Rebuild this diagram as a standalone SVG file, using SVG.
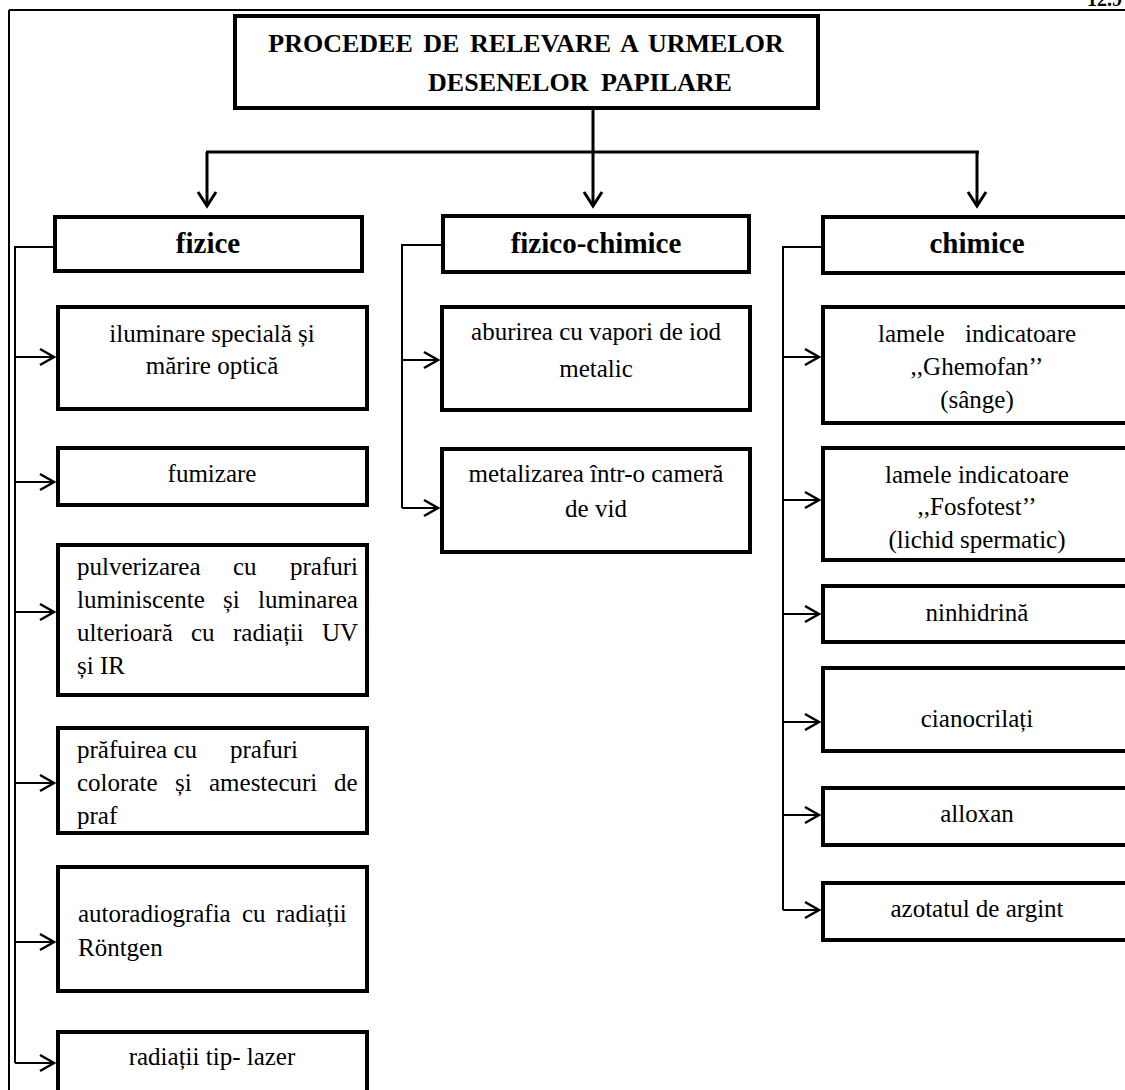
<svg xmlns="http://www.w3.org/2000/svg" width="1125" height="1090" viewBox="0 0 1125 1090">
<defs>
<style>
.box{fill:#fff;stroke:#000;stroke-width:4}
.t{font-family:"Liberation Serif","Times New Roman",serif;font-size:25px;fill:#000}
.c{text-anchor:middle}
.h{font-family:"Liberation Serif","Times New Roman",serif;font-size:29px;font-weight:bold;text-anchor:middle;fill:#000}
.ti{font-family:"Liberation Serif","Times New Roman",serif;font-size:26px;font-weight:bold;text-anchor:middle;fill:#000}
.ln{fill:none;stroke:#000;stroke-width:2}
.dn{fill:none;stroke:#000;stroke-width:3}
</style>
<marker id="ar" markerUnits="userSpaceOnUse" markerWidth="20" markerHeight="20" refX="0" refY="0" viewBox="-16 -10 20 20" orient="auto">
<path d="M-14,-8 L0,0 L-14,8" fill="none" stroke="#000" stroke-width="2.5"/>
</marker>
<marker id="ad" markerUnits="userSpaceOnUse" markerWidth="24" markerHeight="24" refX="0" refY="0" viewBox="-16 -12 20 24" orient="auto">
<path d="M-14,-9 L0,0 L-14,9" fill="none" stroke="#000" stroke-width="3"/>
</marker>
</defs>
<rect width="1125" height="1090" fill="#fff"/>
<g id="page">
<line x1="9" y1="10" x2="1125" y2="10" class="ln"/>
<line x1="9" y1="10" x2="9" y2="1090" class="ln"/>
<text x="1122" y="6" font-family="Liberation Serif, serif" font-size="20" font-weight="bold" text-anchor="end">12.9</text>
</g>
<g id="connectors">
<line x1="593" y1="108" x2="593" y2="152" class="dn"/>
<line x1="206" y1="152" x2="979" y2="152" class="dn"/>
<line x1="207" y1="152" x2="207" y2="206" class="dn" marker-end="url(#ad)"/>
<line x1="593" y1="152" x2="593" y2="206" class="dn" marker-end="url(#ad)"/>
<line x1="977" y1="152" x2="977" y2="206" class="dn" marker-end="url(#ad)"/>
<polyline points="55,247 15,247 15,1063" class="ln"/>
<line x1="15" y1="357" x2="54" y2="357" class="ln" marker-end="url(#ar)"/>
<line x1="15" y1="482" x2="54" y2="482" class="ln" marker-end="url(#ar)"/>
<line x1="15" y1="612" x2="54" y2="612" class="ln" marker-end="url(#ar)"/>
<line x1="15" y1="783" x2="54" y2="783" class="ln" marker-end="url(#ar)"/>
<line x1="15" y1="942" x2="54" y2="942" class="ln" marker-end="url(#ar)"/>
<line x1="15" y1="1063" x2="54" y2="1063" class="ln" marker-end="url(#ar)"/>
<polyline points="443,245 402,245 402,508" class="ln"/>
<line x1="402" y1="360" x2="438" y2="360" class="ln" marker-end="url(#ar)"/>
<line x1="402" y1="508" x2="438" y2="508" class="ln" marker-end="url(#ar)"/>
<polyline points="823,247 783,247 783,910" class="ln"/>
<line x1="783" y1="357" x2="819" y2="357" class="ln" marker-end="url(#ar)"/>
<line x1="783" y1="500" x2="819" y2="500" class="ln" marker-end="url(#ar)"/>
<line x1="783" y1="614" x2="819" y2="614" class="ln" marker-end="url(#ar)"/>
<line x1="783" y1="722" x2="819" y2="722" class="ln" marker-end="url(#ar)"/>
<line x1="783" y1="815" x2="819" y2="815" class="ln" marker-end="url(#ar)"/>
<line x1="783" y1="910" x2="819" y2="910" class="ln" marker-end="url(#ar)"/>
</g>
<g id="title">
<rect x="235" y="16" width="583" height="92" class="box"/>
<text class="ti" x="526" y="52" word-spacing="4">PROCEDEE DE RELEVARE A URMELOR</text>
<text class="ti" x="580" y="91" word-spacing="6">DESENELOR PAPILARE</text>
</g>
<g id="fizice">
<rect x="55" y="217" width="307" height="54" class="box"/>
<text class="h" x="208" y="253">fizice</text>
</g>
<g id="fizico-chimice">
<rect x="443" y="216" width="306" height="56" class="box"/>
<text class="h" x="596" y="253">fizico-chimice</text>
</g>
<g id="chimice">
<rect x="823" y="217" width="308" height="56" class="box"/>
<text class="h" x="977" y="253">chimice</text>
</g>
<g id="iluminare">
<rect x="58" y="307" width="309" height="102" class="box"/>
<text class="t c" x="212" y="342">iluminare specială și</text>
<text class="t c" x="212" y="374">mărire optică</text>
</g>
<g id="fumizare">
<rect x="58" y="448" width="309" height="57" class="box"/>
<text class="t c" x="212" y="482">fumizare</text>
</g>
<g id="pulverizarea">
<rect x="58" y="545" width="309" height="150" class="box"/>
<text class="t" y="575"><tspan x="77">pulverizarea</tspan><tspan x="233">cu</tspan><tspan x="290">prafuri</tspan></text>
<text class="t" y="608"><tspan x="77">luminiscente</tspan><tspan x="223">și</tspan><tspan x="258">luminarea</tspan></text>
<text class="t" y="641"><tspan x="77">ulterioară</tspan><tspan x="191">cu</tspan><tspan x="233">radiații</tspan><tspan x="322">UV</tspan></text>
<text class="t" y="674" x="77">și IR</text>
</g>
<g id="prafuirea">
<rect x="58" y="728" width="309" height="105" class="box"/>
<text class="t" y="758"><tspan x="77">prăfuirea cu</tspan><tspan x="230">prafuri</tspan></text>
<text class="t" y="791"><tspan x="77">colorate</tspan><tspan x="175">și</tspan><tspan x="209">amestecuri</tspan><tspan x="334">de</tspan></text>
<text class="t" y="824" x="77">praf</text>
</g>
<g id="autoradiografia">
<rect x="58" y="867" width="309" height="124" class="box"/>
<text class="t" y="922"><tspan x="78">autoradiografia</tspan><tspan x="242">cu</tspan><tspan x="276">radiații</tspan></text>
<text class="t" y="956" x="78">Röntgen</text>
</g>
<g id="radiatii-lazer">
<rect x="58" y="1032" width="309" height="64" class="box"/>
<text class="t c" x="212" y="1065">radiații tip- lazer</text>
</g>
<g id="aburirea">
<rect x="442" y="307" width="308" height="103" class="box"/>
<text class="t c" x="596" y="340">aburirea cu vapori de iod</text>
<text class="t c" x="596" y="377">metalic</text>
</g>
<g id="metalizarea">
<rect x="442" y="449" width="308" height="103" class="box"/>
<text class="t c" x="596" y="482">metalizarea într-o cameră</text>
<text class="t c" x="596" y="517">de vid</text>
</g>
<g id="ghemofan">
<rect x="823" y="307" width="308" height="116" class="box"/>
<text class="t" y="342"><tspan x="878">lamele</tspan><tspan x="965">indicatoare</tspan></text>
<text class="t c" x="977" y="375">,,Ghemofan’’</text>
<text class="t c" x="977" y="408">(sânge)</text>
</g>
<g id="fosfotest">
<rect x="823" y="448" width="308" height="112" class="box"/>
<text class="t c" x="977" y="483">lamele indicatoare</text>
<text class="t c" x="977" y="515">,,Fosfotest’’</text>
<text class="t c" x="977" y="548">(lichid spermatic)</text>
</g>
<g id="ninhidrina">
<rect x="823" y="586" width="308" height="56" class="box"/>
<text class="t c" x="977" y="621">ninhidrină</text>
</g>
<g id="cianocrilati">
<rect x="823" y="668" width="308" height="83" class="box"/>
<text class="t c" x="977" y="727">cianocrilați</text>
</g>
<g id="alloxan">
<rect x="823" y="788" width="308" height="57" class="box"/>
<text class="t c" x="977" y="822">alloxan</text>
</g>
<g id="azotatul">
<rect x="823" y="883" width="308" height="57" class="box"/>
<text class="t c" x="977" y="917">azotatul de argint</text>
</g>
</svg>
